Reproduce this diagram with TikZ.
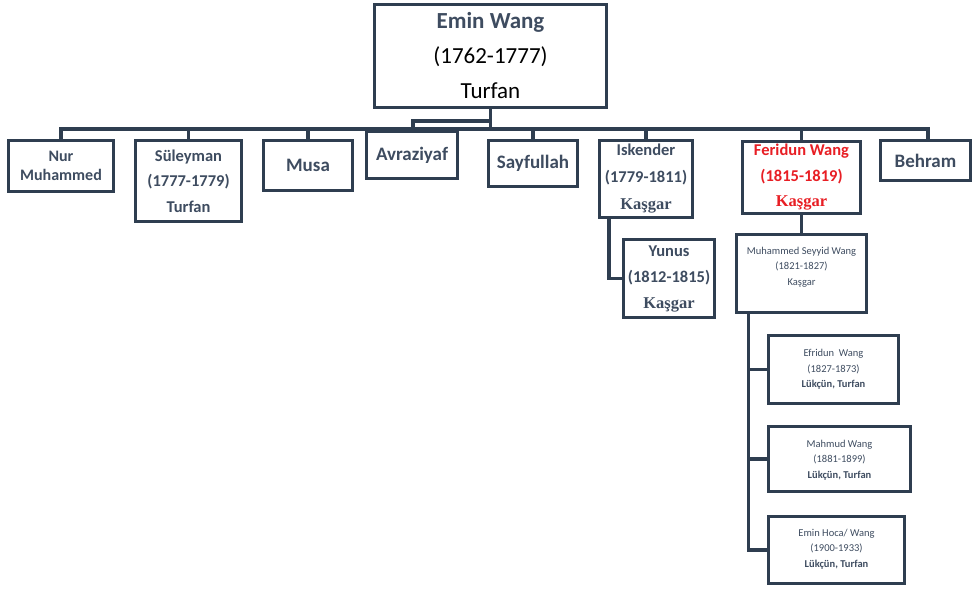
\documentclass[tikz,border=0pt]{standalone}
\usepackage{fontspec}
\setmainfont{Carlito}
\newfontfamily\serifb{Liberation Serif}[BoldFont={Liberation Serif Bold}]
\usetikzlibrary{calc}
\definecolor{edge}{RGB}{47,62,80}
\definecolor{slate}{RGB}{62,76,96}
\definecolor{redt}{RGB}{232,30,36}
\tikzset{
  box/.style={draw=edge, line width=2.8pt, fill=white, inner sep=0pt, align=center, text=slate},
  conn/.style={draw=edge, line width=3.4pt, line join=miter, line cap=rect},
  big/.style={font=\fontsize{23}{35}\selectfont},
  mid/.style={font=\bfseries\fontsize{16.5}{25.5}\selectfont},
  large/.style={font=\bfseries\fontsize{19}{23}\selectfont},
  small/.style={font=\fontsize{10.5}{15.5}\selectfont, text=slate, align=center, inner sep=0pt},
}
\newcommand{\ksg}{{\serifb\bfseries Kaşgar}}
\begin{document}
\begin{tikzpicture}[x=1pt,y=-1pt]
\useasboundingbox (0,0) rectangle (974,590);
% connectors (drawn first)
\coordinate (busL) at (61,129);
\coordinate (busR) at (928,129);
\coordinate (brk) at (413,121);
\draw[conn] (busL) -- (busR);
% boxes
\node[box, big, minimum width=232, minimum height=103] (top) at (490.5,56)
  {{\bfseries Emin Wang}\\\color{black}(1762-1777)\\\color{black}Turfan};
\node[box, mid, font=\bfseries\fontsize{16}{19}\selectfont, minimum width=105, minimum height=51] (nur) at (61,166) {Nur\\Muhammed};
\node[box, mid, minimum width=106, minimum height=81] (sul) at (188.5,181) {Süleyman\\(1777-1779)\\Turfan};
\node[box, large, minimum width=89, minimum height=50] (musa) at (308,165.5) {Musa};
\node[box, large, minimum width=91, minimum height=47] (avr) at (412,155) {Avraziyaf};
\node[box, large, minimum width=89, minimum height=46] (say) at (533,163.5) {Sayfullah};
\node[box, mid, font=\bfseries\fontsize{16.5}{27}\selectfont, minimum width=93, minimum height=77] (isk) at (646,179) {Iskender\\(1779-1811)\\\ksg};
\node[box, mid, text=redt, minimum width=118, minimum height=72] (fer) at (801.5,177.5) {Feridun Wang\\(1815-1819)\\\ksg};
\node[box, large, minimum width=90, minimum height=40] (beh) at (925.5,160.5) {Behram};
\node[box, mid, font=\bfseries\fontsize{16.5}{26}\selectfont, minimum width=91, minimum height=78] (yun) at (669,278.5) {Yunus\\(1812-1815)\\\ksg};
\node[box, minimum width=130, minimum height=78] (sey) at (801.5,273.5) {};
\node[small] (seyt) at ($(sey.center)+(0,-6.5)$) {Muhammed Seyyid Wang\\(1821-1827)\\Kaşgar};
\node[box, minimum width=130, minimum height=68] (efr) at (833.5,369.5) {};
\node[small] (efrt) at (efr.center) {Efridun\ \ Wang\\(1827-1873)\\\textbf{Lükçün, Turfan}};
\node[box, minimum width=142, minimum height=65] (mah) at (839.5,459) {};
\node[small] (maht) at ($(mah.center)+(0,1)$) {Mahmud Wang\\(1881-1899)\\\textbf{Lükçün, Turfan}};
\node[box, minimum width=136, minimum height=67] (emh) at (836.5,550) {};
\node[small] (emht) at ($(emh.center)+(0,-1)$) {Emin Hoca/ Wang\\(1900-1933)\\\textbf{Lükçün, Turfan}};
% connectors
\draw[conn] (top.south) -- (top.south |- busL);
\draw[conn] (top.south |- brk) -- (brk) -- (avr.north -| brk);
\draw[conn] (nur.north) -- (nur.north |- busL);
\draw[conn] (sul.north) -- (sul.north |- busL);
\draw[conn] (musa.north) -- (musa.north |- busL);
\draw[conn] (say.north) -- (say.north |- busL);
\draw[conn] (isk.north) -- (isk.north |- busL);
\draw[conn] (fer.north) -- (fer.north |- busL);
\draw[conn] ([xshift=2.5]beh.north) -- (busR);
\draw[conn] ([xshift=-37]isk.south) |- (yun.west);
\draw[conn] (fer.south) -- (sey.north);
\draw[conn] ([xshift=-53]sey.south) |- (efr.west);
\draw[conn] ([xshift=-53]sey.south) |- (mah.west);
\draw[conn] ([xshift=-53]sey.south) |- (emh.west);
\end{tikzpicture}
\end{document}
